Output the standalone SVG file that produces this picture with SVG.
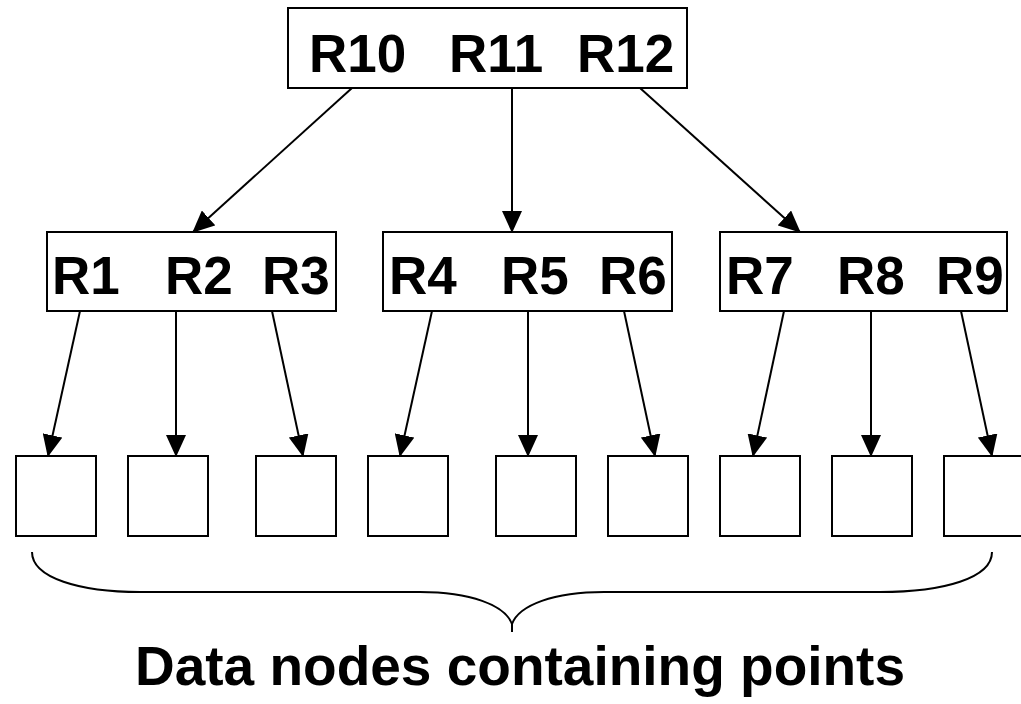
<svg xmlns="http://www.w3.org/2000/svg" width="1021" height="704" viewBox="0 0 1021 704">
<style>
.box{fill:#fff;stroke:#000;stroke-width:2}
.lbl{font-family:"Liberation Sans",Arial,sans-serif;font-weight:bold;font-size:53px;fill:#000}
.edge{stroke:#000;stroke-width:2;fill:none}
</style>
<defs>
<marker id="ah" markerUnits="userSpaceOnUse" markerWidth="22" markerHeight="20" refX="21" refY="10" orient="auto" viewBox="0 0 22 20">
<path d="M0,0 L22,10 L0,20 Z" fill="#000"/>
</marker>
</defs>
<rect width="1021" height="704" fill="#fff"/>
<g id="root">
<rect class="box" x="288" y="8" width="399" height="80"/>
<text class="lbl" x="309" y="72">R10</text>
<text class="lbl" x="449" y="72">R11</text>
<text class="lbl" x="577" y="72">R12</text>
</g>
<g id="n1">
<rect class="box" x="47" y="232" width="289" height="79"/>
<text class="lbl" x="52" y="294">R1</text>
<text class="lbl" x="165" y="294">R2</text>
<text class="lbl" x="262" y="294">R3</text>
</g>
<g id="n2">
<rect class="box" x="383" y="232" width="289" height="79"/>
<text class="lbl" x="389" y="294">R4</text>
<text class="lbl" x="501" y="294">R5</text>
<text class="lbl" x="599" y="294">R6</text>
</g>
<g id="n3">
<rect class="box" x="720" y="232" width="287" height="79"/>
<text class="lbl" x="726" y="294">R7</text>
<text class="lbl" x="837" y="294">R8</text>
<text class="lbl" x="936" y="294">R9</text>
</g>
<g id="leaves">
<rect id="d1" class="box" x="16" y="456" width="80" height="80"/>
<rect id="d2" class="box" x="128" y="456" width="80" height="80"/>
<rect id="d3" class="box" x="256" y="456" width="80" height="80"/>
<rect id="d4" class="box" x="368" y="456" width="80" height="80"/>
<rect id="d5" class="box" x="496" y="456" width="80" height="80"/>
<rect id="d6" class="box" x="608" y="456" width="80" height="80"/>
<rect id="d7" class="box" x="720" y="456" width="80" height="80"/>
<rect id="d8" class="box" x="832" y="456" width="80" height="80"/>
<rect id="d9" class="box" x="944" y="456" width="80" height="80"/>
</g>
<g id="connectors">
<line class="edge" x1="352" y1="88" x2="193" y2="232" marker-end="url(#ah)"/>
<line class="edge" x1="512" y1="88" x2="512" y2="232" marker-end="url(#ah)"/>
<line class="edge" x1="640" y1="88" x2="800" y2="232" marker-end="url(#ah)"/>
<line class="edge" x1="80" y1="311" x2="48" y2="456" marker-end="url(#ah)"/>
<line class="edge" x1="176" y1="311" x2="176" y2="456" marker-end="url(#ah)"/>
<line class="edge" x1="272" y1="311" x2="303" y2="456" marker-end="url(#ah)"/>
<line class="edge" x1="432" y1="311" x2="400" y2="456" marker-end="url(#ah)"/>
<line class="edge" x1="528" y1="311" x2="528" y2="456" marker-end="url(#ah)"/>
<line class="edge" x1="624" y1="311" x2="655" y2="456" marker-end="url(#ah)"/>
<line class="edge" x1="784" y1="311" x2="753" y2="456" marker-end="url(#ah)"/>
<line class="edge" x1="871" y1="311" x2="871" y2="456" marker-end="url(#ah)"/>
<line class="edge" x1="961" y1="311" x2="992" y2="456" marker-end="url(#ah)"/>
</g>
<g id="brace">
<path class="edge" d="M32,552 C32,578 80,592 140,592 L420,592 C470,592 505,605 512,624 L512,632 M512,624 C519,605 554,592 604,592 L880,592 C944,592 992,578 992,552"/>
</g>
<text id="caption" class="lbl" x="520" y="685" text-anchor="middle" style="font-size:55px">Data nodes containing points</text>
</svg>
